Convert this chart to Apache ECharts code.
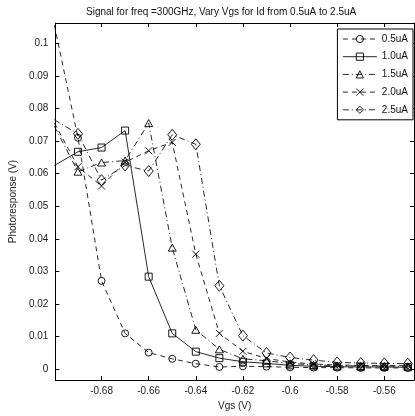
<!DOCTYPE html>
<html>
<head>
<meta charset="utf-8">
<script src="https://cdn.jsdelivr.net/npm/echarts@6/dist/echarts.min.js"></script>
<style>html,body{margin:0;padding:0;background:#fff;}#c{width:415px;height:416px;}</style>
</head>
<body>
<div id="c"></div>
<script>
const vgs = [-0.70,-0.69,-0.68,-0.67,-0.66,-0.65,-0.64,-0.63,-0.62,-0.61,-0.60,-0.59,-0.58,-0.57,-0.56,-0.55];
const id05 = [0.1055,0.0710,0.0271,0.0110,0.0051,0.0032,0.0017,0.0007,0.0009,0.0008,0.0006,0.0005,0.0005,0.0004,0.0004,0.0004];
const id10 = [0.0625,0.0667,0.0680,0.0732,0.0284,0.0110,0.0054,0.0034,0.0023,0.0018,0.0012,0.0009,0.0008,0.0007,0.0007,0.0006];
const id15 = [0.0745,0.0606,0.0634,0.0640,0.0755,0.0373,0.0121,0.0061,0.0032,0.0026,0.0018,0.0013,0.0011,0.0010,0.0010,0.0009];
const id20 = [0.0755,0.0621,0.0562,0.0635,0.0670,0.0696,0.0353,0.0110,0.0055,0.0033,0.0022,0.0016,0.0013,0.0012,0.0011,0.0011];
const id25 = [0.0765,0.0722,0.0580,0.0625,0.0608,0.0719,0.0690,0.0256,0.0103,0.0050,0.0036,0.0028,0.0021,0.0019,0.0018,0.0017];
const seriesNames = ['0.5uA','1.0uA','1.5uA','2.0uA','2.5uA'];
const xTicks = [-0.68,-0.66,-0.64,-0.62,-0.60,-0.58,-0.56];
const yTicks = [0,0.01,0.02,0.03,0.04,0.05,0.06,0.07,0.08,0.09,0.1];
const titleText = 'Signal for freq =300GHz, Vary Vgs for Id from 0.5uA to 2.5uA';
const xName = 'Vgs (V)';
const yName = 'Photoresponse (V)';

const FONT = 'Liberation Sans, Arial, sans-serif';
const fmt = v => String(parseFloat(Number(v).toFixed(2)));
const XMIN = -0.6996, XMAX = -0.5474, YMIN = -0.0033, YMAX = 0.1062;

function mkAxis(isX, pos, labels) {
  return {
    type: 'value', position: pos,
    min: isX ? XMIN : YMIN, max: isX ? XMAX : YMAX,
    splitLine: { show: false },
    axisLine: { show: true, onZero: false, lineStyle: { color: '#000', width: 1 } },
    axisTick: { show: true, inside: true, length: 4, lineStyle: { color: '#000', width: 1 },
      customValues: isX ? xTicks : yTicks },
    axisLabel: { show: labels, customValues: isX ? xTicks : yTicks, formatter: fmt,
      color: '#222', fontFamily: FONT, fontSize: 10, margin: isX ? 6 : 7 }
  };
}

const xA = [mkAxis(true, 'bottom', true), mkAxis(true, 'top', false)];
xA[0].name = xName; xA[0].nameLocation = 'middle'; xA[0].nameGap = 20;
xA[0].nameTextStyle = { color: '#222', fontFamily: FONT, fontSize: 10 };
const yA = [mkAxis(false, 'left', true), mkAxis(false, 'right', false)];
yA[0].name = yName; yA[0].nameLocation = 'middle'; yA[0].nameGap = 29;
yA[0].nameTextStyle = { color: '#222', fontFamily: FONT, fontSize: 10 };

const datasets = [id05, id10, id15, id20, id25];
const symbols = ['circle', 'rect', 'triangle', 'path://M0,0L10,10M10,0L0,10', 'diamond'];
const sizes = [7, 7, [8, 7], 7, [9, 11]];
const dashes = [[5, 4], 'solid', [6, 3, 1, 3], [5, 4], [6, 3, 1, 3]];

const series = datasets.map((d, k) => ({
  name: seriesNames[k], type: 'line',
  data: vgs.map((x, i) => [x, d[i]]),
  symbol: symbols[k], symbolSize: sizes[k], showAllSymbol: true,
  clip: true,
  lineStyle: { color: '#111', width: 0.9, type: dashes[k] },
  itemStyle: { color: 'rgba(255,255,255,0)', borderColor: '#000', borderWidth: 0.9 },
  emphasis: { disabled: true }
}));

const chart = echarts.init(document.getElementById('c'), null, { renderer: 'canvas' });
chart.setOption({
  animation: false,
  backgroundColor: '#fff',
  title: { text: titleText, left: 81, top: 2,
    textStyle: { fontFamily: FONT, fontSize: 10, fontWeight: 'normal', color: '#111' } },
  grid: { left: 45, right: 1, top: 23, bottom: 36, containLabel: false },
  legend: {
    orient: 'vertical', right: 2, top: 29,
    data: seriesNames,
    itemWidth: 34, itemHeight: 9, itemGap: 7.7,
    padding: [5, 5, 5, 5],
    borderColor: '#000', borderWidth: 1, backgroundColor: '#fff',
    itemStyle: { color: 'rgba(255,255,255,0)', borderColor: '#000', borderWidth: 0.9 },
    lineStyle: { width: 0.9, color: '#111' },
    textStyle: { fontFamily: FONT, fontSize: 10, color: '#111' }
  },
  xAxis: xA, yAxis: yA, series: series
});
</script>
</body>
</html>
